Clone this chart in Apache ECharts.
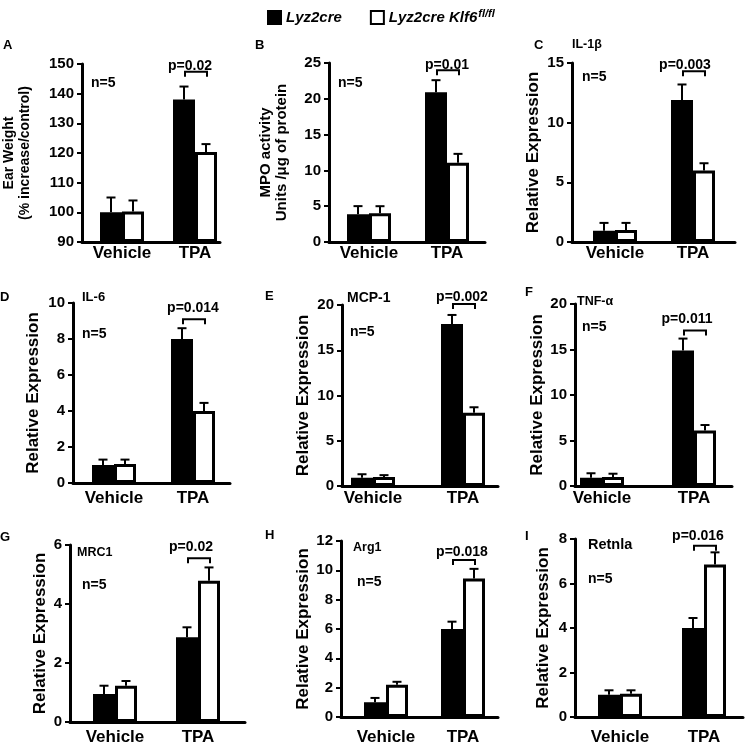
<!DOCTYPE html>
<html><head><meta charset="utf-8">
<script src="https://cdn.jsdelivr.net/npm/echarts@6/dist/echarts.min.js"></script>
<style>html,body{margin:0;padding:0;background:#fff}#c{width:745px;height:746px}</style>
</head><body><div id="c"></div>
<script>
// ---- data ----
const categories = ['Vehicle', 'TPA'];
const groupNames = ['Lyz2cre', 'Lyz2cre Klf6'];
const panelLetters = ['A', 'B', 'C', 'D', 'E', 'F', 'G', 'H', 'I'];
const markerNames = ['', '', 'IL-1β', 'IL-6', 'MCP-1', 'TNF-α', 'MRC1', 'Arg1', 'Retnla'];
const yTitles = ['Ear Weight\n(% increase/control)', 'MPO activity\nUnits /μg of protein',
  'Relative Expression', 'Relative Expression', 'Relative Expression', 'Relative Expression',
  'Relative Expression', 'Relative Expression', 'Relative Expression'];
const yMin = [90, 0, 0, 0, 0, 0, 0, 0, 0];
const yMax = [150, 25, 15, 10, 20, 20, 6, 12, 8];
const yStep = [10, 5, 5, 2, 5, 5, 2, 2, 2];
// [Vehicle, TPA]
const lyz2creMean = [[100, 138], [3.86, 20.9], [0.95, 11.9], [1.0, 8.0], [0.9, 17.9], [0.9, 14.9], [0.95, 2.87], [1.0, 6.0], [1.0, 4.0]];
const lyz2creSem = [[5, 4.4], [1.15, 1.7], [0.65, 1.3], [0.3, 0.6], [0.4, 1.0], [0.5, 1.3], [0.28, 0.34], [0.3, 0.5], [0.2, 0.45]];
const klf6Mean = [[100.3, 120.3], [4.0, 11.06], [1.0, 6.0], [1.05, 4.0], [1.0, 8.1], [1.0, 6.1], [1.23, 4.79], [2.2, 9.45], [1.05, 6.85]];
const klf6Sem = [[3.7, 2.7], [1.0, 1.25], [0.6, 0.6], [0.25, 0.45], [0.2, 0.6], [0.35, 0.6], [0.16, 0.45], [0.2, 0.65], [0.15, 0.55]];
const pValues = ['p=0.02', 'p=0.01', 'p=0.003', 'p=0.014', 'p=0.002', 'p=0.011', 'p=0.02', 'p=0.018', 'p=0.016'];
const bracketLevel = [147.4, 24.0, 14.3, 9.1, 20.1, 17.1, 5.55, 10.7, 7.7];
const sampleSize = ['n=5', 'n=5', 'n=5', 'n=5', 'n=5', 'n=5', 'n=5', 'n=5', 'n=5'];

// ---- layout (pixels) ----
const LAYOUT = [
  {ax: 82, end: 220, top: 64, bot: 242, c1: 122, c2: 195, gap: 49, ns: 14, lh: 16, xm: 3, letter: [3, 45], gene: null, n: [91, 83], p: [190, 66]},
  {ax: 329, end: 485, top: 63, bot: 242, c1: 369, c2: 447, gap: 39, ns: 15, lh: 16, xm: 3, letter: [255, 45], gene: null, n: [338, 83], p: [447, 65]},
  {ax: 572, end: 735, top: 63, bot: 242, c1: 615, c2: 693, gap: 30, ns: 17, lh: 18, xm: 3, letter: [534, 45], gene: [572, 45, 12.5], n: [582, 77], p: [685, 65]},
  {ax: 73, end: 230, top: 303, bot: 483, c1: 114, c2: 193, gap: 31, ns: 17, lh: 18, xm: 7, letter: [0, 297], gene: [82, 297, 13], n: [82, 334], p: [193, 308]},
  {ax: 342, end: 498, top: 305, bot: 486, c1: 373, c2: 463, gap: 30, ns: 17, lh: 18, xm: 4, letter: [265, 296], gene: [347, 298, 14], n: [350, 332], p: [462, 297]},
  {ax: 575, end: 732, top: 304, bot: 486, c1: 602, c2: 694, gap: 28, ns: 17, lh: 18, xm: 4, letter: [525, 292], gene: [577, 302, 12.5], n: [582, 327], p: [687, 319]},
  {ax: 70, end: 245, top: 545, bot: 724, c1: 115, c2: 198, gap: 16, ns: 17, lh: 18, xm: 7, letter: [0, 537], gene: [77, 553, 12.5], n: [82, 585], p: [191, 547]},
  {ax: 341, end: 498, top: 541, bot: 720, c1: 386, c2: 463, gap: 29, ns: 17, lh: 18, xm: 12, letter: [265, 535], gene: [353, 548, 12.5], n: [357, 582], p: [462, 552]},
  {ax: 575, end: 743, top: 539, bot: 720, c1: 620, c2: 704, gap: 23, ns: 17, lh: 18, xm: 12, letter: [525, 536], gene: [588, 545, 14.5], n: [588, 579], p: [698, 536]}
];
const FONT = '"Liberation Sans", Arial, sans-serif';
const BAR_W = 22;

const grids = [], xAxes = [], yAxes = [], series = [], graphics = [];

function renderErr(params, api) {
  const x = api.value(0), m = api.value(1), s = api.value(2), g = api.value(3);
  const off = (g === 0 ? -1 : 1) * BAR_W / 2;
  const base = api.coord([x, m]);
  const top = api.coord([x, m + s]);
  const cx = base[0] + off;
  return {type: 'group', children: [
    {type: 'line', shape: {x1: cx, y1: base[1], x2: cx, y2: top[1]}, style: {stroke: '#000', lineWidth: 2}},
    {type: 'line', shape: {x1: cx - 4.5, y1: top[1], x2: cx + 4.5, y2: top[1]}, style: {stroke: '#000', lineWidth: 2}}
  ]};
}
function renderBracket(params, api) {
  const p = api.coord([api.value(0), api.value(1)]);
  const x1 = p[0] - 10, x2 = p[0] + 12, y = p[1];
  return {type: 'polyline', shape: {points: [[x1, y + 5], [x1, y], [x2, y], [x2, y + 5]]},
    style: {stroke: '#000', lineWidth: 2, fill: null}};
}

LAYOUT.forEach((L, i) => {
  const span = L.c2 - L.c1;
  grids.push({left: L.ax, top: L.top, width: L.end - L.ax, height: L.bot - L.top, containLabel: false});
  xAxes.push({
    type: 'value', gridIndex: i,
    min: -(L.c1 - L.ax) / span, max: 1 + (L.end - L.c2) / span,
    axisLine: {onZero: false, lineStyle: {color: '#000', width: 3}},
    axisTick: {show: false}, splitLine: {show: false},
    axisLabel: {customValues: [0, 1], formatter: v => categories[Math.round(v)],
      fontFamily: FONT, fontSize: 17, fontWeight: 'bold', color: '#000', margin: L.xm}
  });
  yAxes.push({
    type: 'value', gridIndex: i, min: yMin[i], max: yMax[i], interval: yStep[i], startValue: yMin[i],
    axisLine: {show: true, onZero: false, lineStyle: {color: '#000', width: 3}},
    axisTick: {show: true, length: 5, lineStyle: {color: '#000', width: 2}},
    splitLine: {show: false},
    axisLabel: {fontFamily: FONT, fontSize: 15, fontWeight: 'bold', color: '#000', margin: 8},
    name: yTitles[i], nameLocation: 'middle', nameGap: L.gap,
    nameTextStyle: {fontFamily: FONT, fontSize: L.ns, fontWeight: 'bold', color: '#000', lineHeight: L.lh}
  });
  series.push({
    type: 'bar', name: groupNames[0], xAxisIndex: i, yAxisIndex: i, barWidth: BAR_W, barGap: '0%', clip: true,
    data: categories.map((c, k) => [k, lyz2creMean[i][k]]),
    itemStyle: {color: '#000', borderColor: '#000', borderWidth: 2}
  });
  series.push({
    type: 'bar', name: groupNames[1], xAxisIndex: i, yAxisIndex: i, barWidth: BAR_W, barGap: '0%', clip: true,
    data: categories.map((c, k) => [k, klf6Mean[i][k]]),
    itemStyle: {color: '#fff', borderColor: '#000', borderWidth: 3}
  });
  const errData = [];
  categories.forEach((c, k) => {
    errData.push([k, lyz2creMean[i][k], lyz2creSem[i][k], 0]);
    errData.push([k, klf6Mean[i][k], klf6Sem[i][k], 1]);
  });
  series.push({type: 'custom', xAxisIndex: i, yAxisIndex: i, renderItem: renderErr, data: errData, z: 5, silent: true});
  series.push({type: 'custom', xAxisIndex: i, yAxisIndex: i, renderItem: renderBracket,
    data: [[1, bracketLevel[i]]], z: 5, silent: true, clip: false});

  graphics.push({type: 'text', x: L.letter[0], y: L.letter[1],
    style: {text: panelLetters[i], font: 'bold 13px ' + FONT, fill: '#000', verticalAlign: 'middle', align: 'left'}});
  if (L.gene) graphics.push({type: 'text', x: L.gene[0], y: L.gene[1],
    style: {text: markerNames[i], font: 'bold ' + L.gene[2] + 'px ' + FONT, fill: '#000', verticalAlign: 'middle', align: 'left'}});
  graphics.push({type: 'text', x: L.n[0], y: L.n[1],
    style: {text: sampleSize[i], font: 'bold 14px ' + FONT, fill: '#000', verticalAlign: 'middle', align: 'left'}});
  graphics.push({type: 'text', x: L.p[0], y: L.p[1],
    style: {text: pValues[i], font: 'bold 14px ' + FONT, fill: '#000', verticalAlign: 'middle', align: 'center'}});
});

const chart = echarts.init(document.getElementById('c'), null, {renderer: 'canvas'});
chart.setOption({
  animation: false,
  backgroundColor: '#fff',
  textStyle: {fontFamily: FONT},
  legend: {
    data: groupNames, left: 262, top: 3, itemWidth: 13, itemHeight: 13, itemGap: 28, icon: 'rect',
    formatter: name => name === groupNames[1] ? '{b|' + name + '}{s|fl/fl}' : '{b|' + name + '}',
    textStyle: {fontFamily: FONT, fontSize: 15, fontWeight: 'bold', fontStyle: 'italic', color: '#000',
      rich: {
        b: {fontFamily: FONT, fontSize: 15, fontWeight: 'bold', fontStyle: 'italic', color: '#000'},
        s: {fontFamily: FONT, fontSize: 11, fontWeight: 'bold', fontStyle: 'italic', color: '#000', verticalAlign: 'top', padding: [0, 0, 8, 1]}
      }}
  },
  grid: grids, xAxis: xAxes, yAxis: yAxes, series: series, graphic: graphics
});
</script></body></html>
